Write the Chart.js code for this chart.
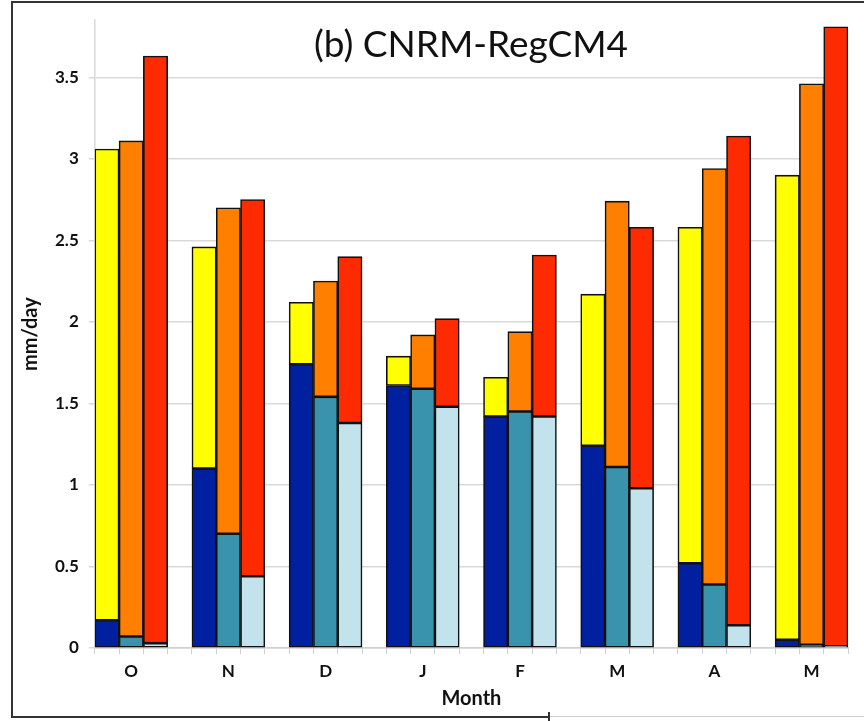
<!DOCTYPE html>
<html>
<head>
<meta charset="utf-8">
<script src="https://cdn.jsdelivr.net/npm/chart.js@4/dist/chart.umd.min.js"></script>
<style>
    html, body { margin: 0; padding: 0; background: #fff; }
    #wrap { position: relative; width: 864px; height: 721px; overflow: hidden; }
    #chart { position: absolute; left: 0; top: 0; }
    #title {
        position: absolute; left: 94px; width: 754px; top: 20px;
        text-align: center; font-family: Lato, sans-serif; font-size: 37px; color: #111;
    }
    .frame { position: absolute; background: #333; }
</style>
</head>
<body>
<div id="wrap">
    <canvas id="chart" width="864" height="721"></canvas>
    <div id="title">(b) CNRM-RegCM4</div>
    <div class="frame" style="left:11px; top:1px; width:2px; height:717px;"></div>
    <div class="frame" style="left:11px; top:1px; width:853px; height:2px;"></div>
    <div class="frame" style="left:11px; top:716px; width:538px; height:2px;"></div>
    <div class="frame" style="left:549px; top:716px; width:315px; height:1px; background:#ccc;"></div>
    <div class="frame" style="left:548px; top:712px; width:2px; height:9px;"></div>
</div>
<script>
const months = ["O", "N", "D", "J", "F", "M", "A", "M"];

// bar totals (top of each bar)
const yellowTotal = [3.06, 2.46, 2.12, 1.79, 1.66, 2.17, 2.58, 2.90];
const orangeTotal = [3.11, 2.70, 2.25, 1.92, 1.94, 2.74, 2.94, 3.46];
const redTotal = [3.63, 2.75, 2.40, 2.02, 2.41, 2.58, 3.14, 3.81];

// lower (blue) part of each bar
const darkBlueBase = [0.17, 1.10, 1.74, 1.61, 1.42, 1.24, 0.52, 0.05];
const tealBase = [0.07, 0.70, 1.54, 1.59, 1.45, 1.11, 0.39, 0.02];
const lightBlueBase = [0.03, 0.44, 1.38, 1.48, 1.42, 0.98, 0.14, 0.01];

const yTicks = [0, 0.5, 1, 1.5, 2, 2.5, 3, 3.5];

// each month takes 3 bar slots, with one empty slot between months
const slotsPerMonth = 4;
const slotCount = months.length * slotsPerMonth - 1;
const labels = [];
for (let k = 0; k < slotCount; k++) {
    labels.push(k % slotsPerMonth === 1 ? months[Math.floor(k / slotsPerMonth)] : "");
}

function toSlots(values, barIndex) {
    const out = new Array(slotCount).fill(null);
    values.forEach((v, i) => { out[i * slotsPerMonth + barIndex] = v; });
    return out;
}

function topPart(total, base) {
    return total.map((t, i) => +(t - base[i]).toFixed(3));
}

const series = [
    { base: darkBlueBase, total: yellowTotal, baseColor: "#00209F", topColor: "#FFFF00" },
    { base: tealBase, total: orangeTotal, baseColor: "#3A93AD", topColor: "#FF7F00" },
    { base: lightBlueBase, total: redTotal, baseColor: "#C3E3EC", topColor: "#FF2B00" }
];

const datasets = [];
series.forEach((s, j) => {
    datasets.push({
        data: toSlots(s.base, j),
        backgroundColor: s.baseColor
    });
    datasets.push({
        data: toSlots(topPart(s.total, s.base), j),
        backgroundColor: s.topColor
    });
});
datasets.forEach((d) => {
    d.borderColor = "#111";
    d.borderWidth = 1.6;
    d.borderSkipped = false;
    d.categoryPercentage = 1;
    d.barPercentage = 1;
});

new Chart(document.getElementById("chart"), {
    type: "bar",
    data: { labels, datasets },
    options: {
        responsive: false,
        animation: false,
        layout: { padding: { left: 13, right: 16, top: 18, bottom: 5 } },
        plugins: {
            legend: { display: false },
            tooltip: { enabled: false }
        },
        scales: {
            x: {
                stacked: true,
                grid: {
                    display: true,
                    drawOnChartArea: false,
                    drawTicks: true,
                    tickLength: 6,
                    color: "#d0d0d0",
                    offset: true
                },
                border: { display: true, color: "#d0d0d0", width: 1.5 },
                ticks: {
                    autoSkip: false,
                    maxRotation: 0,
                    padding: 9,
                    color: "#111",
                    font: { family: "Lato", size: 17, weight: "bold", lineHeight: 1 }
                },
                title: {
                    display: true,
                    text: "Month",
                    color: "#111",
                    font: { family: "Lato", size: 20, weight: "bold", lineHeight: 1 },
                    padding: { top: 0, bottom: 7 }
                }
            },
            y: {
                stacked: true,
                min: 0,
                max: 3.85,
                afterBuildTicks: (scale) => {
                    scale.ticks = yTicks.map((v) => ({ value: v }));
                },
                grid: {
                    color: "#d9d9d9",
                    lineWidth: 1.5,
                    tickLength: 6
                },
                border: { display: true, color: "#d9d9d9", width: 1.5 },
                ticks: {
                    padding: 10,
                    color: "#111",
                    font: { family: "Lato", size: 17, weight: "bold" },
                    callback: (value) => String(value)
                },
                title: {
                    display: true,
                    text: "mm/day",
                    color: "#111",
                    font: { family: "Lato", size: 20, weight: "bold" },
                    padding: { top: 6, bottom: 2 }
                }
            }
        }
    }
});
</script>
</body>
</html>
